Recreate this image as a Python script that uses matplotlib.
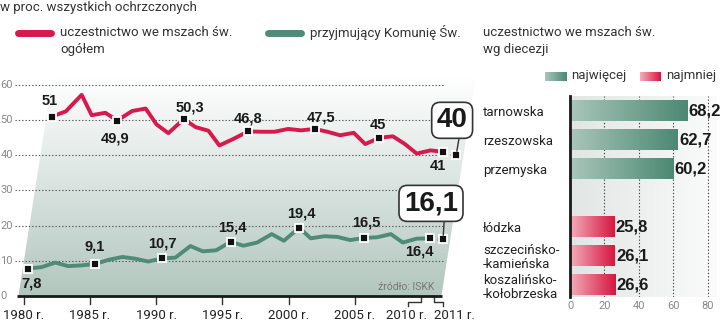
import numpy as np
import matplotlib.pyplot as plt
import matplotlib.transforms as mtransforms
from matplotlib.colors import LinearSegmentedColormap
from matplotlib.patches import Polygon
from matplotlib.lines import Line2D

# w proc. wszystkich ochrzczonych, dane ISKK
years = list(range(1980, 2012))
mass_pct = [51.0, 52.5, 57.2, 51.4, 52.1, 49.9, 52.6, 53.3, 48.8, 46.3,
            50.3, 48.0, 47.0, 42.8, 44.7, 46.8, 46.7, 46.7, 47.5, 47.1,
            47.5, 46.7, 45.7, 46.4, 43.2, 45.0, 45.4, 43.2, 40.5, 41.4,
            41.0, 40.0]
communion_pct = [7.8, 8.2, 9.5, 8.5, 8.7, 9.1, 10.3, 11.1, 10.6, 9.8,
                 10.7, 10.9, 14.2, 12.7, 13.0, 15.4, 14.3, 15.2, 17.6, 15.7,
                 19.4, 16.4, 17.0, 16.8, 15.9, 16.5, 16.7, 17.6, 15.2, 16.3,
                 16.4, 16.1]
marked_years = [1980, 1985, 1990, 1995, 2000, 2005, 2010, 2011]
tick_years = [1980, 1985, 1990, 1995, 2000, 2005, 2010, 2011]
y_ticks = [0, 10, 20, 30, 40, 50, 60]

dioceses = ['tarnowska', 'rzeszowska', 'przemyska', 'łódzka',
            'szczecińsko-\n-kamieńska', 'koszalińsko-\n-kołobrzeska']
diocese_pct = [68.2, 62.7, 60.2, 25.8, 26.1, 26.6]
diocese_group = ['najwięcej', 'najwięcej', 'najwięcej', 'najmniej', 'najmniej', 'najmniej']
bar_ticks = [0, 20, 40, 60, 80]

RED = '#d7194b'
GREEN = '#4f8b77'
DARK = '#1a1a1a'
TXT = '#333333'
f_txt = ['Roboto', 'DejaVu Sans']
f_num = ['Liberation Sans', 'DejaVu Sans']
f_big = ['Liberation Sans Narrow', 'Liberation Sans', 'DejaVu Sans']

W, H = 720, 324
fig = plt.figure(figsize=(W / 100, H / 100), dpi=100)


def fx(px):
    return px / W


def fy(py):
    return 1 - py / H


def fmt(v):
    s = f'{v:.1f}'.replace('.', ',')
    return s[:-2] if s.endswith(',0') else s


# ---------------- line chart ----------------
px_year = 13.24   # pixels per year
px_unit = 3.517   # pixels per percentage point
x_first = 23.7    # pixel of 1980 on the baseline
y_zero = 296      # pixel (from top) of 0

ax = fig.add_axes([0, 0, fx(482), 1])
x_lo = 1980 - x_first / px_year
ax.set_xlim(x_lo, x_lo + 482 / px_year)
ax.set_ylim((y_zero - H) / px_unit, y_zero / px_unit)
ax.axis('off')

# the plot area is slanted: higher values are shifted to the right
shear = 0.55 / px_year
skew = mtransforms.Affine2D(np.array([[1, shear, 0], [0, 1, 0], [0, 0, 1]])) + ax.transData

panel = Polygon([(1979.6, 0), (2011.55, 0), (2011.55, 62), (1979.6, 62)],
                closed=True, transform=skew, fc='none', ec='none')
ax.add_patch(panel)
bg_cmap = LinearSegmentedColormap.from_list('bg', ['#b2c6be', '#d9e3df', '#ffffff'])
im = ax.imshow(np.linspace(0, 1, 256).reshape(-1, 1), extent=(1978, 2016, 0, 62),
               origin='lower', cmap=bg_cmap, aspect='auto', zorder=0)
im.set_clip_path(panel)

ax.hlines(y_ticks[1:], 1979.35, 2011.8, colors='#555555', linestyles=(0, (1.2, 1.8)),
          lw=0.8, zorder=1)
for v in y_ticks:
    ax.text(x_lo + 0.02, v, str(v), ha='left', va='center', fontsize=8,
            color='#8a8a8a', family=f_txt)
ax.plot([1979.5, 2011.6], [0, 0], color=DARK, lw=2, solid_capstyle='butt', zorder=3)

for yr in tick_years[:-2]:
    ax.plot([yr, yr], [0, -2.4], color='#333333', lw=1)
    ax.text(yr, -5.5, f'{yr} r.', ha='center', va='center', fontsize=9.5,
            color='#222222', family=f_txt)
# bracketed ticks for the last two years
for yr, knee, lab in [(tick_years[-2], -1.0, -1.07), (tick_years[-1], 0.7, 1.5)]:
    ax.plot([yr, yr, yr + knee, yr + knee], [0, -1.6, -1.6, -2.8],
            color='#333333', lw=1)
    ax.text(yr + lab, -5.5, f'{yr} r.', ha='center', va='center', fontsize=9.5,
            color='#222222', family=f_txt)

ax.text(2011.0, 2.6, 'źródło: ISKK', ha='right', va='center', fontsize=7.5,
        color='#777777', family=f_txt)

series = [(mass_pct, RED,
           [(-2, 16), (-2, -18), (6, 12), (0, 13), (6, 11), (-2, 13), (-6, -14), (-4, 35)]),
          (communion_pct, GREEN,
           [(4, -15), (0, 17), (0, 15), (2, 14), (2, 14), (3, 15), (-11, -13), (-12, 36)])]

for vals, col, offs in series:
    ax.plot(years[:-1], vals[:-1], color=col, lw=2.8, solid_joinstyle='round',
            solid_capstyle='round', transform=skew, zorder=4)
    ax.plot(years[-2:], vals[-2:], color=col, lw=2.8, ls=(0, (0.8, 1.2)),
            transform=skew, zorder=4)
    mv = [vals[years.index(y)] for y in marked_years]
    ax.plot(marked_years, mv, 's', ms=5.5, mfc='#111111', mec='white', mew=1.3,
            transform=skew, zorder=5)
    for i, (yr, v) in enumerate(zip(marked_years, mv)):
        dx, dy = offs[i]
        if i == len(marked_years) - 1:
            ax.annotate(fmt(v), xy=(yr, v), xycoords=skew, xytext=(dx, dy),
                        textcoords='offset pixels', ha='center', va='center',
                        fontsize=20, fontweight='bold', family=f_big, color=DARK,
                        bbox=dict(boxstyle='round,pad=0.18,rounding_size=0.3',
                                  fc='white', ec='#333333', lw=1.2),
                        arrowprops=dict(arrowstyle='-', color='#333333', lw=1,
                                        shrinkA=0, shrinkB=3, relpos=(0.75, 0)),
                        zorder=6)
        else:
            ax.annotate(fmt(v), xy=(yr, v), xycoords=skew, xytext=(dx, dy),
                        textcoords='offset pixels', ha='center', va='center',
                        fontsize=10.5, fontweight='bold', family=f_num, color=DARK,
                        zorder=6)

# titles and legend
fig.text(0, fy(7), 'w proc. wszystkich ochrzczonych', ha='left', va='center',
         fontsize=9.5, color=TXT, family=f_txt)
fig.add_artist(Line2D([fx(18), fx(51)], [fy(33), fy(33)], color=RED, lw=5,
                      solid_capstyle='round'))
fig.text(fx(60), fy(26), 'uczestnictwo we mszach św.\nogółem', ha='left', va='top',
         fontsize=9.5, color=TXT, family=f_txt, linespacing=1.35)
fig.add_artist(Line2D([fx(268), fx(301)], [fy(33), fy(33)], color=GREEN, lw=5,
                      solid_capstyle='round'))
fig.text(fx(310), fy(33), 'przyjmujący Komunię Św.', ha='left', va='center',
         fontsize=9.5, color=TXT, family=f_txt)

# ---------------- diocese bars ----------------
px_pct = 1.721
row_px = 29.0
top_row = 111
bx = fig.add_axes([fx(570), fy(297), fx(717) - fx(570), (297 - 96) / H])
xmax = (717 - 570) / px_pct
ymax = (297 - top_row) / row_px
ymin = (96 - top_row) / row_px
bx.set_xlim(0, xmax)
bx.set_ylim(ymax, ymin)

grad_cmaps = {'najwięcej': LinearSegmentedColormap.from_list('g', ['#aac6bb', '#4c8873']),
              'najmniej': LinearSegmentedColormap.from_list('r', ['#f4adbb', '#d6163f'])}
solid = {'najwięcej': GREEN, 'najmniej': RED}

pos = []
for i, g in enumerate(diocese_group):
    pos.append(i + (1 if g != diocese_group[0] else 0))

bx.imshow(np.linspace(0, 1, 256).reshape(1, -1), extent=(0, xmax, ymax, ymin),
          cmap=LinearSegmentedColormap.from_list('pbg', ['#e1e6e5', '#fbfbfb']),
          aspect='auto', zorder=0)
for g in bar_ticks[1:]:
    bx.axvline(g, color='#444444', lw=0.8, ls=(0, (1.2, 1.8)), zorder=1)

bars = bx.barh(pos, diocese_pct, height=0.72, color=[solid[g] for g in diocese_group],
               zorder=2)
for bar, g, v in zip(bars, diocese_group, diocese_pct):
    x0, y0, w, h = bar.get_x(), bar.get_y(), bar.get_width(), bar.get_height()
    bx.imshow(np.linspace(0, 1, 256).reshape(1, -1), extent=(x0, x0 + w, y0 + h, y0),
              cmap=grad_cmaps[g], aspect='auto', zorder=3)
    bx.text(x0 + w + 0.6, y0 + h / 2, fmt(v), ha='left', va='center', fontsize=12,
            fontweight='bold', family=f_num, color=DARK, clip_on=False, zorder=4)

bx.set_xlim(0, xmax)
bx.set_ylim(ymax, ymin)
for s in ['top', 'right', 'bottom']:
    bx.spines[s].set_visible(False)
bx.spines['left'].set_linewidth(2)
bx.spines['left'].set_color(DARK)
bx.spines['left'].set_zorder(5)
bx.set_xticks(bar_ticks)
bx.set_xticklabels([str(t) for t in bar_ticks], family=f_txt)
bx.tick_params(axis='x', length=0, pad=3, labelsize=8, labelcolor='#8a8a8a')
bx.set_yticks(pos)
bx.set_yticklabels(dioceses, family=f_txt, fontsize=9.5, color='#222222',
                   linespacing=1.1)
bx.tick_params(axis='y', length=0, pad=(570 - 483) * 0.72)
for lbl in bx.get_yticklabels():
    lbl.set_ha('left')
    lbl.set_multialignment('left')

fig.text(fx(483), fy(26), 'uczestnictwo we mszach św.\nwg diecezji', ha='left',
         va='top', fontsize=9.5, color=TXT, family=f_txt, linespacing=1.35)

# gradient legend swatches
for x_sw, w_sw, g, x_t in [(545, 22, 'najwięcej', 571), (640, 21, 'najmniej', 666)]:
    sw = fig.add_axes([fx(x_sw), fy(81), w_sw / W, 9 / H])
    sw.imshow(np.linspace(0, 1, 64).reshape(1, -1), cmap=grad_cmaps[g], aspect='auto')
    sw.axis('off')
    fig.text(fx(x_t), fy(76), g, ha='left', va='center', fontsize=9.5, color=TXT,
             family=f_txt)

fig.savefig('out.png', dpi=100)
